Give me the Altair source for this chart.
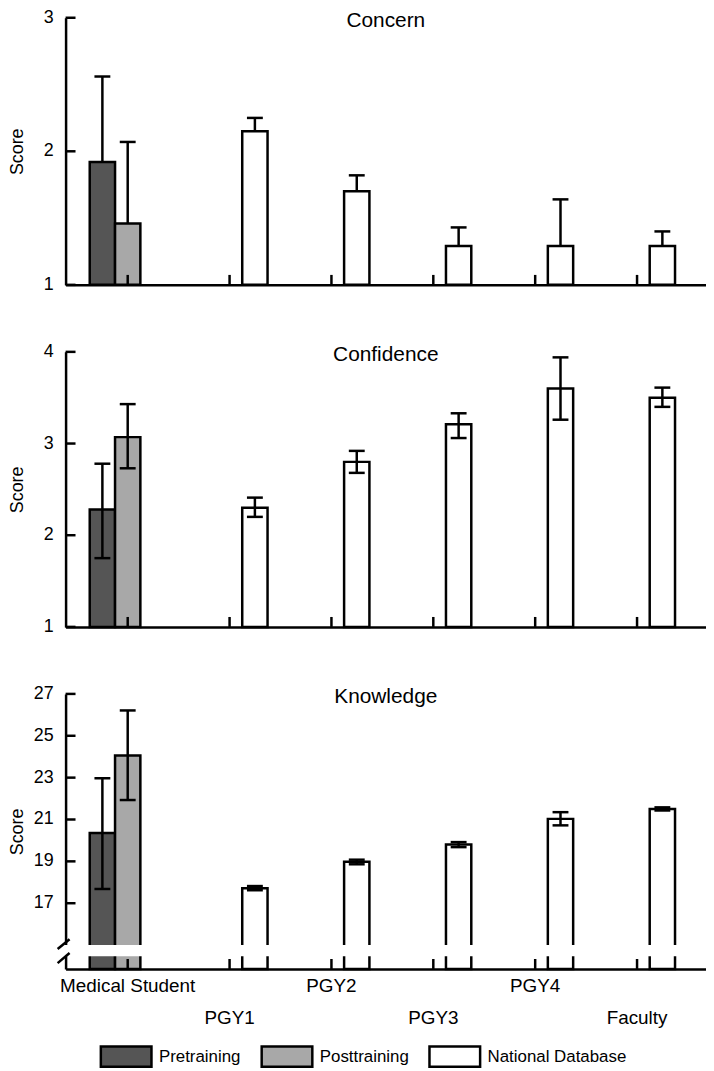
import altair as alt
import pandas as pd

# ---- categories ----
groups = ["Medical Student", "PGY1", "PGY2", "PGY3", "PGY4", "Faculty"]
series_names = ["Pretraining", "Posttraining", "National Database"]
bar_groups = ["Medical Student", "Medical Student", "PGY1", "PGY2", "PGY3", "PGY4", "Faculty"]
bar_series = ["Pretraining", "Posttraining", "National Database", "National Database",
              "National Database", "National Database", "National Database"]
panel_titles = ["Concern", "Confidence", "Knowledge"]

# ---- values (mean, lower whisker, upper whisker) ----
concern_mean = [1.92, 1.46, 2.15, 1.70, 1.29, 1.29, 1.29]
concern_lo = [1.92, 1.46, 2.15, 1.70, 1.29, 1.29, 1.29]
concern_hi = [2.56, 2.07, 2.25, 1.82, 1.43, 1.64, 1.40]

confidence_mean = [2.28, 3.07, 2.30, 2.80, 3.21, 3.60, 3.50]
confidence_lo = [1.75, 2.73, 2.20, 2.68, 3.06, 3.26, 3.40]
confidence_hi = [2.78, 3.43, 2.41, 2.92, 3.33, 3.94, 3.61]

knowledge_mean = [20.36, 24.06, 17.71, 18.98, 19.81, 21.03, 21.50]
knowledge_lo = [17.68, 21.93, 17.62, 18.86, 19.68, 20.72, 21.43]
knowledge_hi = [22.97, 26.21, 17.82, 19.08, 19.92, 21.35, 21.58]

# ---- tick labels ----
concern_ticks = [1, 2, 3]
confidence_ticks = [1, 2, 3, 4]
knowledge_ticks = [17, 19, 21, 23, 25, 27]

concern_domain = [1, 3]
confidence_domain = [1, 4]
knowledge_domain = [13.86, 27]

# axis break (data units) and break marks on the y axis
break_band = [15.0, 14.47]
slash_from = [14.81, 14.14]
slash_to = [15.28, 14.62]

W = 645
fill_colors = ["#555555", "#a8a8a8", "#ffffff"]


def panel(title, mean, lo, hi, ticks, domain, height, bottom=False):
    df = pd.DataFrame({"group": bar_groups, "series": bar_series,
                       "mean": mean, "lo": lo, "hi": hi})
    yscale = alt.Scale(domain=domain, nice=False, zero=False)
    xscale = alt.Scale(domain=groups, paddingInner=0.2544, paddingOuter=0.2705, align=0.438)
    if bottom:
        xaxis = alt.Axis(title=None, labels=True, ticks=False, tickSize=0, domainWidth=2.5,
                         domainColor="black", labelFontSize=19, labelPadding=8,
                         labelLineHeight=32, labelBaseline="top", labelAngle=0,
                         labelColor="black", labelOverlap=False,
                         labelExpr="indexof(['PGY1','PGY3','Faculty'], datum.label) >= 0 ? ['', datum.label] : datum.label")
        legend = alt.Legend(title=None, orient="none", legendX=34, legendY=338,
                            direction="horizontal", symbolType="M-1,-0.4H1V0.4H-1Z",
                            symbolSize=2601, symbolStrokeColor="black", symbolStrokeWidth=2.5,
                            symbolOpacity=1, labelFontSize=17, labelColor="black",
                            labelOffset=6, columnPadding=15, padding=0)
    else:
        xaxis = alt.Axis(title=None, labels=False, ticks=False, tickSize=0, domainWidth=2.5,
                         domainColor="black")
        legend = None
    yaxis = alt.Axis(title="Score", values=ticks, labels=False, ticks=False, tickSize=0,
                     domainWidth=2.5, domainColor="black", grid=False, titleFontSize=18,
                     titleFontWeight="normal", titleColor="black", titleX=-48,
                     titleBaseline="middle")
    xo = alt.XOffset("series:N", scale=alt.Scale(domain=series_names, paddingInner=0, paddingOuter=0))
    x_enc = alt.X("group:N", scale=xscale, axis=xaxis)

    base = alt.Chart(df)
    bars = base.mark_bar(stroke="black", strokeWidth=2.5, opacity=1).encode(
        x=x_enc, xOffset=xo,
        y=alt.Y("mean:Q", scale=yscale, axis=yaxis),
        y2=alt.datum(domain[0]),
        fill=alt.Fill("series:N", scale=alt.Scale(domain=series_names, range=fill_colors), legend=legend),
    )
    err = base.mark_rule(strokeWidth=2.5, color="black").encode(
        x="group:N", xOffset="series:N", y="lo:Q", y2="hi:Q")
    cap_hi = base.mark_tick(size=16, thickness=2.5, color="black", opacity=1).encode(
        x="group:N", xOffset="series:N", y="hi:Q")
    cap_lo = base.transform_filter("datum.lo < datum.mean").mark_tick(
        size=16, thickness=2.5, color="black", opacity=1).encode(
        x="group:N", xOffset="series:N", y="lo:Q")

    layers = [bars, err, cap_hi, cap_lo]

    if bottom:
        gap = alt.Chart(pd.DataFrame({"a": [break_band[0]], "b": [break_band[1]]})).mark_rect(
            fill="white", opacity=1).encode(
            x=alt.value(-6), x2=alt.value(W), y="a:Q", y2="b:Q")
        slashes = alt.Chart(pd.DataFrame({"s1": slash_from, "s2": slash_to})).mark_rule(
            strokeWidth=2.5, color="black").encode(
            x=alt.value(-8), x2=alt.value(4), y="s1:Q", y2="s2:Q")
        layers += [gap, slashes]

    tick_df = pd.DataFrame({"v": ticks})
    grp_ticks = alt.Chart(pd.DataFrame({"group": groups})).mark_rule(
        strokeWidth=2.5, color="black").encode(
        x="group:N", y=alt.value(height), y2=alt.value(height - 10))
    y_ticks = alt.Chart(tick_df).mark_rule(strokeWidth=2.5, color="black").encode(
        x=alt.value(0), x2=alt.value(10), y="v:Q")
    y_labels = alt.Chart(tick_df).mark_text(
        fontSize=18, align="right", baseline="middle", color="black").encode(
        x=alt.value(-12), y="v:Q", text=alt.Text("v:Q", format="d"))
    ttl = alt.Chart(pd.DataFrame({"t": [title]})).mark_text(
        fontSize=21, baseline="middle", align="center", color="black").encode(
        x=alt.value(W / 2), y=alt.value(3), text="t:N")
    layers += [grp_ticks, y_ticks, y_labels, ttl]

    return alt.layer(*layers).properties(width=W, height=height)


p1 = panel(panel_titles[0], concern_mean, concern_lo, concern_hi, concern_ticks, concern_domain, 269)
p2 = panel(panel_titles[1], confidence_mean, confidence_lo, confidence_hi, confidence_ticks, confidence_domain, 277)
p3 = panel(panel_titles[2], knowledge_mean, knowledge_lo, knowledge_hi, knowledge_ticks, knowledge_domain, 277, bottom=True)

chart = alt.vconcat(p1, p2, p3, spacing=49.5).resolve_scale(fill="independent").resolve_legend(
    fill="independent").properties(
    padding={"top": -3, "left": 1, "right": 0, "bottom": 0}
).configure(font="Liberation Sans").configure_view(stroke=None)

chart.save("out.html", embed_options={"renderer": "svg", "actions": False})
